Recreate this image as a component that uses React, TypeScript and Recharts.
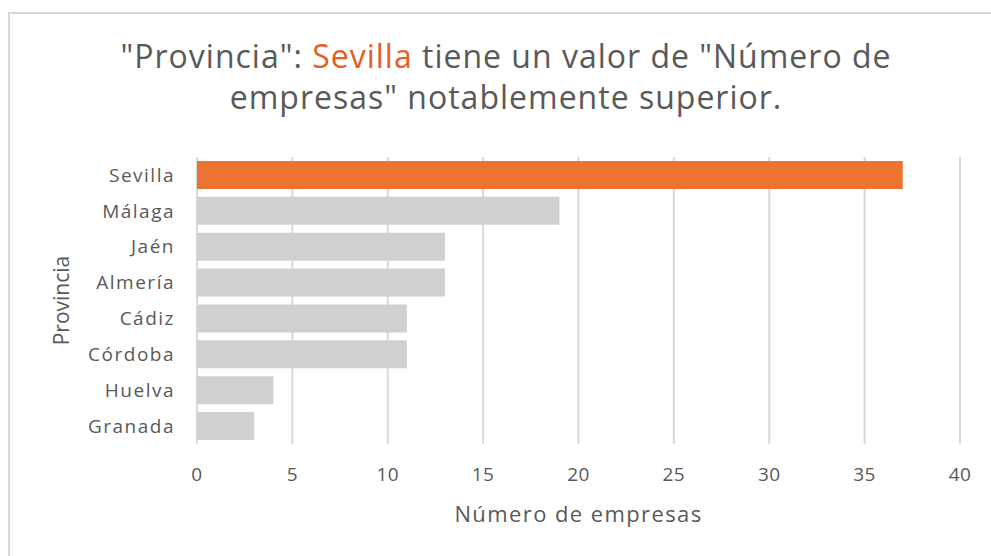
import { BarChart, Bar, Cell, XAxis, YAxis, CartesianGrid } from 'recharts';

const provincias = ['Sevilla', 'Málaga', 'Jaén', 'Almería', 'Cádiz', 'Córdoba', 'Huelva', 'Granada'];
const empresas = [37, 19, 13, 13, 11, 11, 4, 3];
const xTicks = [0, 5, 10, 15, 20, 25, 30, 35, 40];
const destacada = 'Sevilla';

const data = provincias.map((p, i) => ({ provincia: p, empresas: empresas[i] }));

const TEXT = '#595959';
const FONT = '"Open Sans", sans-serif';

export default function App() {
  return (
    <div
      style={{
        position: 'absolute',
        left: 0,
        top: 0,
        width: 991,
        height: 556,
        overflow: 'hidden',
        background: '#fff',
        fontFamily: FONT,
      }}
    >
      {/* borde del gráfico */}
      <div
        style={{
          position: 'absolute',
          left: 8,
          top: 12,
          width: 1000,
          height: 600,
          borderTop: '2px solid #d9d9d9',
          borderLeft: '2px solid #d9d9d9',
        }}
      />
      <div
        style={{
          position: 'absolute',
          top: 35,
          left: 0,
          width: 1012,
          textAlign: 'center',
          fontSize: 32,
          letterSpacing: 1,
          lineHeight: '41px',
          color: TEXT,
        }}
      >
        "Provincia": <span style={{ color: '#E2611F' }}>Sevilla</span> tiene un valor de "Número de
        <br />
        empresas" notablemente superior.
      </div>
      <BarChart
        width={991}
        height={556}
        data={data}
        layout="vertical"
        margin={{ top: 157, right: 31, left: 0, bottom: 0 }}
        barCategoryGap="11%"
        style={{ position: 'absolute', left: 0, top: 0 }}
      >
        <CartesianGrid horizontal={false} stroke="#d9d9d9" strokeWidth={2} />
        <XAxis
          type="number"
          domain={[0, 40]}
          ticks={xTicks}
          axisLine={false}
          tickLine={false}
          tickSize={0}
          tickMargin={24}
          height={112}
          tick={{ fill: TEXT, fontSize: 19, fontFamily: FONT, letterSpacing: 0.5 }}
          label={{
            value: 'Número de empresas',
            position: 'insideBottom',
            offset: 34,
            fill: TEXT,
            fontSize: 22,
            fontFamily: FONT,
            letterSpacing: 1.4,
          }}
        />
        <YAxis
          type="category"
          dataKey="provincia"
          width={197}
          axisLine={false}
          tickLine={false}
          tickSize={0}
          tickMargin={22}
          interval={0}
          tick={{ fill: TEXT, fontSize: 19, fontFamily: FONT, letterSpacing: 1.5 }}
          label={{
            value: 'Provincia',
            angle: -90,
            position: 'insideLeft',
            offset: 62,
            fill: TEXT,
            fontSize: 21,
            fontFamily: FONT,
            style: { textAnchor: 'middle' },
          }}
        />
        <Bar dataKey="empresas" isAnimationActive={false}>
          {data.map((d) => (
            <Cell key={d.provincia} fill={d.provincia === destacada ? '#ED7430' : '#D0D0D0'} />
          ))}
        </Bar>
      </BarChart>
    </div>
  );
}
